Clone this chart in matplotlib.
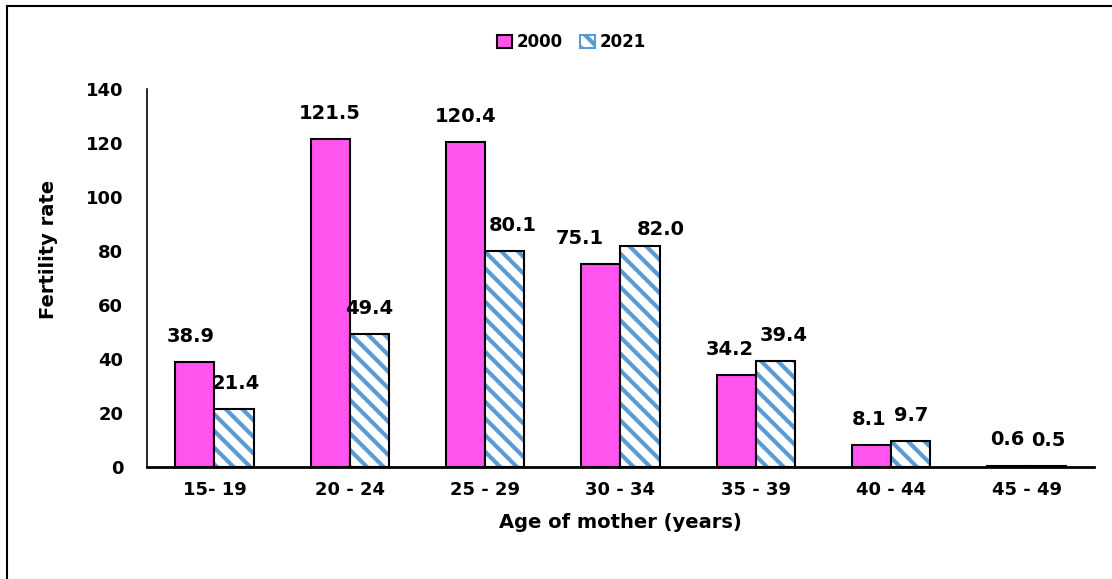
import numpy as np
import matplotlib.pyplot as plt
from matplotlib.lines import Line2D
from matplotlib.patches import Patch

age_groups = ['15- 19', '20 - 24', '25 - 29', '30 - 34', '35 - 39', '40 - 44', '45 - 49']
rate_2000 = [38.9, 121.5, 120.4, 75.1, 34.2, 8.1, 0.6]
rate_2021 = [21.4, 49.4, 80.1, 82.0, 39.4, 9.7, 0.5]

pink = '#FF55EE'
blue = '#5B9BD5'

plt.rcParams['font.family'] = 'DejaVu Sans'
plt.rcParams['font.weight'] = 'bold'
plt.rcParams['hatch.linewidth'] = 3.0

fig = plt.figure(figsize=(11.12, 5.79), dpi=100)
ax = fig.add_axes([0.132, 0.193, 0.852, 0.653])

x = np.arange(len(age_groups))
w = 0.29

ax.bar(x - w / 2, rate_2000, w, color=pink, edgecolor='black', linewidth=1.5)
ax.bar(x + w / 2, rate_2021, w, color='white', edgecolor=blue, hatch='\\\\', linewidth=0)
ax.bar(x + w / 2, rate_2021, w, fill=False, edgecolor='black', linewidth=1.5)

# value labels, nudged sideways where they crowd each other (as in the original)
nudge_2000 = [-0.03, 0, 0, -0.155, -0.045, -0.015, 0]
nudge_2021 = [0.015, 0, 0.06, 0.155, 0.06, 0, 0.015]
lift_2021 = [6, 6, 6, 2.5, 6, 6, 6]
for xi, v, dx in zip(x, rate_2000, nudge_2000):
    ax.text(xi - w / 2 + dx, v + 6, f'{v:.1f}', ha='center', va='bottom', fontsize=14, fontweight='bold')
for xi, v, dx, dy in zip(x, rate_2021, nudge_2021, lift_2021):
    ax.text(xi + w / 2 + dx, v + dy, f'{v:.1f}', ha='center', va='bottom', fontsize=14, fontweight='bold')

ax.set_xlim(-0.5, len(age_groups) - 0.5)
ax.set_ylim(0, 140)
ax.set_yticks(range(0, 141, 20))
ax.set_xticks(x)
ax.set_xticklabels(age_groups)
ax.tick_params(axis='both', length=0, labelsize=13, pad=10)
ax.tick_params(axis='y', pad=17)
for lbl in ax.get_xticklabels() + ax.get_yticklabels():
    lbl.set_fontweight('bold')

ax.spines['top'].set_visible(False)
ax.spines['right'].set_visible(False)
ax.spines['left'].set_linewidth(1.2)
ax.spines['bottom'].set_linewidth(2)

ax.set_xlabel('Age of mother (years)', fontsize=14, fontweight='bold', labelpad=10)
ax.set_ylabel('Fertility rate', fontsize=14, fontweight='bold')
ax.yaxis.set_label_coords(-0.094, 0.575)

handles = [Patch(facecolor=pink, edgecolor='black', linewidth=1.5),
           Patch(facecolor='white', edgecolor=blue, hatch='\\\\', linewidth=1.5)]
fig.legend(handles, ['2000', '2021'], loc='center', bbox_to_anchor=(0.514, 0.927), ncol=2,
           frameon=False, handlelength=0.9, handleheight=0.9,
           columnspacing=1.0, handletextpad=0.3, prop={'weight': 'bold', 'size': 12})

# outer frame: only top and left edges are visible
fig.add_artist(Line2D([0.0065, 1.0], [0.989, 0.989], transform=fig.transFigure, color='black', linewidth=1.5))
fig.add_artist(Line2D([0.0065, 0.0065], [0.0, 0.989], transform=fig.transFigure, color='black', linewidth=1.5))

fig.savefig('out.png', dpi=100)
